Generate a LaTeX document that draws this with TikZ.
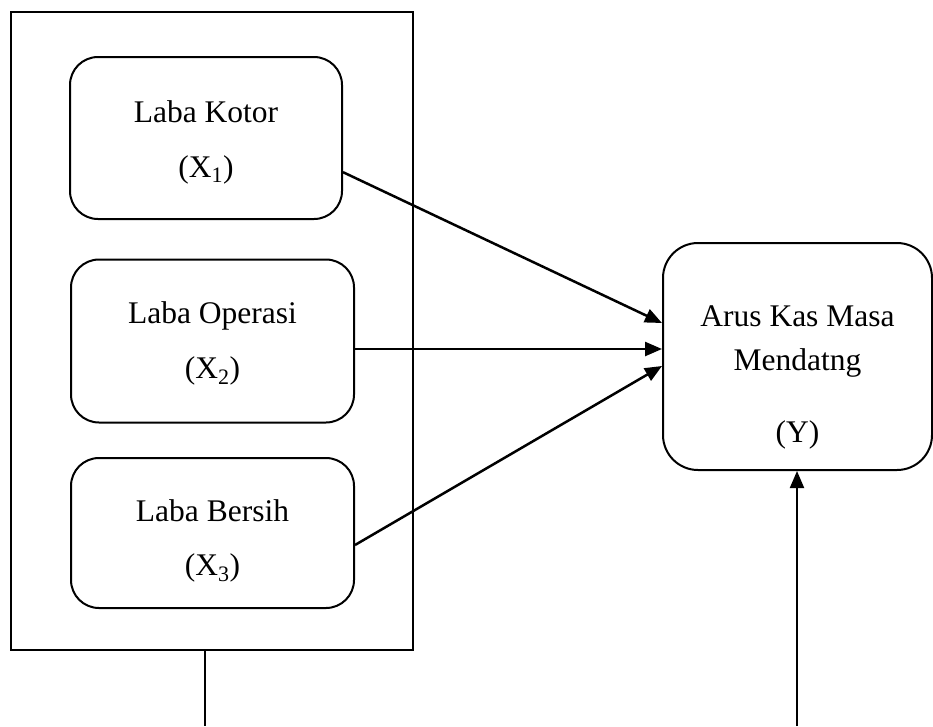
\documentclass[tikz,border=0pt]{standalone}
\usepackage{fontspec}
\setmainfont{Liberation Serif}
\usetikzlibrary{arrows.meta, calc}

\begin{document}
\begin{tikzpicture}[x=1pt, y=-1pt,
  varbox/.style={draw, line width=2pt, rounded corners=28pt, align=center,
                 inner sep=0pt, text depth=6pt, font=\fontsize{31.5}{37}\selectfont},
  arr/.style={-{Triangle[length=17pt, width=14pt]}, line width=2.5pt}]
\useasboundingbox (0,0) rectangle (933,726);

% === Independent variables (left) ===
\node[draw, line width=2pt, inner sep=0pt, minimum width=402pt,
      minimum height=638pt] (outer) at (212,331) {};

\node[varbox, minimum width=272pt, minimum height=162pt, text height=84pt]
      (kotor) at (206,138) {Laba Kotor\\[18pt](X\textsubscript{1})};
\node[varbox, minimum width=283pt, minimum height=163pt, text height=80pt]
      (operasi) at (212.5,341) {Laba Operasi\\[18pt](X\textsubscript{2})};
\node[varbox, minimum width=283pt, minimum height=150pt, text height=90pt]
      (bersih) at (212.5,533) {Laba Bersih\\[17pt](X\textsubscript{3})};

% === Dependent variable (right) ===
\node[varbox, rounded corners=35pt, minimum width=269pt, minimum height=227pt,
      text height=177pt] (arus) at (797.5,356.5)
      {Arus Kas Masa\\[7pt]Mendatng\\[35pt](Y)};

% Arrows
\draw[arr] (kotor.-14.6) -- ($(arus.west)+(0,-33.5)$);
\draw[arr] ($(operasi.east)+(0,8)$) -- ($(arus.west)+(0,-7.5)$);
\draw[arr] ($(bersih.east)+(0,12)$) -- ($(arus.west)+(0,9.5)$);

% Bottom lines
\coordinate (lb) at (205,726);
\coordinate (rb) at (797,726);
\draw[line width=1.6pt] (outer.south -| lb) -- (lb);
\draw[arr, line width=2pt] (rb) -- (rb |- arus.south);

\end{tikzpicture}
\end{document}
